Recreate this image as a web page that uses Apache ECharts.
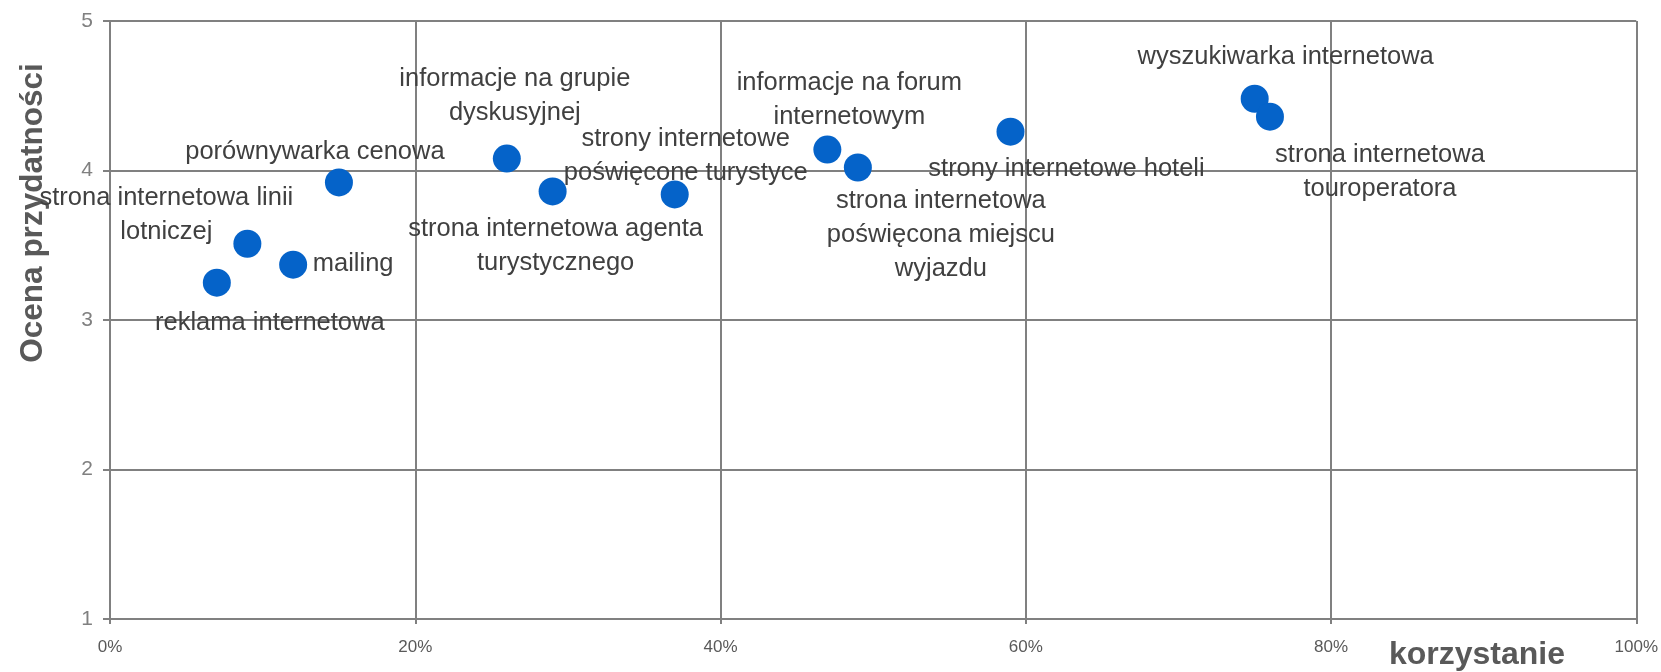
<!DOCTYPE html>
<html>
<head>
<meta charset="utf-8">
<script src="https://cdn.jsdelivr.net/npm/echarts@6/dist/echarts.min.js"></script>
<style>
html, body { margin: 0; padding: 0; background: #fff; }
#main { width: 1661px; height: 672px; }
</style>
</head>
<body>
<div id="main"></div>
<script>
// channels (label text, line breaks as in the picture)
var names = [
  'reklama internetowa',
  'strona internetowa linii\nlotniczej',
  'mailing',
  'porównywarka cenowa',
  'informacje na grupie\ndyskusyjnej',
  'strona internetowa agenta\nturystycznego',
  'strony internetowe\npoświęcone turystyce',
  'informacje na forum\ninternetowym',
  'strona internetowa\npoświęcona miejscu\nwyjazdu',
  'strony internetowe hoteli',
  'wyszukiwarka internetowa',
  'strona internetowa\ntouroperatora'
];
// korzystanie, %
var usage = [7, 9, 12, 15, 26, 29, 37, 47, 49, 59, 75, 76];
// ocena przydatności
var rating = [3.25, 3.51, 3.37, 3.92, 4.08, 3.86, 3.84, 4.14, 4.02, 4.26, 4.48, 4.36];

var xTicks = [0, 20, 40, 60, 80, 100];
var yTicks = [1, 2, 3, 4, 5];

// where each label sits relative to its point (px)
var labelOffsets = [
  [53, 40], [-81, -29], [60, -1], [-24, -30],
  [8, -63], [3, 55], [11, -38], [22, -50],
  [83, 67], [56, 37], [31, -42], [110, 55]
];

var grey = '#808080';
var font = '"Liberation Sans", Arial, sans-serif';

var points = [];
for (var i = 0; i < names.length; i++) {
  points.push({ name: names[i], value: [usage[i], rating[i]] });
}

var options = {
  animation: false,
  textStyle: { fontFamily: font },
  grid: { left: 110, right: 23, top: 21, bottom: 53 },
  xAxis: {
    type: 'value',
    min: xTicks[0],
    max: xTicks[xTicks.length - 1],
    interval: 20,
    axisLine: { show: true, lineStyle: { color: grey, width: 2 } },
    axisTick: { show: true, length: 5, lineStyle: { color: grey, width: 2 } },
    axisLabel: { color: '#595959', fontSize: 17, margin: 20, formatter: '{value}%' },
    splitLine: { show: true, lineStyle: { color: grey, width: 2 } }
  },
  yAxis: {
    type: 'value',
    min: yTicks[0],
    max: yTicks[yTicks.length - 1],
    interval: 1,
    axisLine: { show: true, lineStyle: { color: grey, width: 2 } },
    axisTick: { show: true, length: 7, lineStyle: { color: grey, width: 2 } },
    axisLabel: { color: grey, fontSize: 21, margin: 17 },
    splitLine: { show: true, lineStyle: { color: grey, width: 2 } }
  },
  graphic: [
    {
      type: 'text',
      x: 33, y: 213,
      rotation: Math.PI / 2,
      style: {
        text: 'Ocena przydatności',
        font: 'bold 31.5px ' + font,
        fill: '#595959',
        align: 'center',
        verticalAlign: 'middle'
      }
    },
    {
      type: 'text',
      x: 1477, y: 655,
      style: {
        text: 'korzystanie',
        font: 'bold 32px ' + font,
        fill: '#595959',
        align: 'center',
        verticalAlign: 'middle'
      }
    }
  ],
  series: [
    {
      type: 'scatter',
      symbol: 'circle',
      symbolSize: 28,
      itemStyle: { color: '#0563c9', opacity: 1 },
      label: {
        show: true,
        position: 'inside',
        formatter: '{b}',
        color: '#404040',
        fontSize: 25.5,
        lineHeight: 34,
        align: 'center',
        verticalAlign: 'middle'
      },
      labelLayout: function (p) {
        return {
          dx: labelOffsets[p.dataIndex][0],
          dy: labelOffsets[p.dataIndex][1],
          hideOverlap: false
        };
      },
      emphasis: { disabled: true },
      data: points
    }
  ]
};

var myChart = echarts.init(document.getElementById('main'));
myChart.setOption(options);
</script>
</body>
</html>
